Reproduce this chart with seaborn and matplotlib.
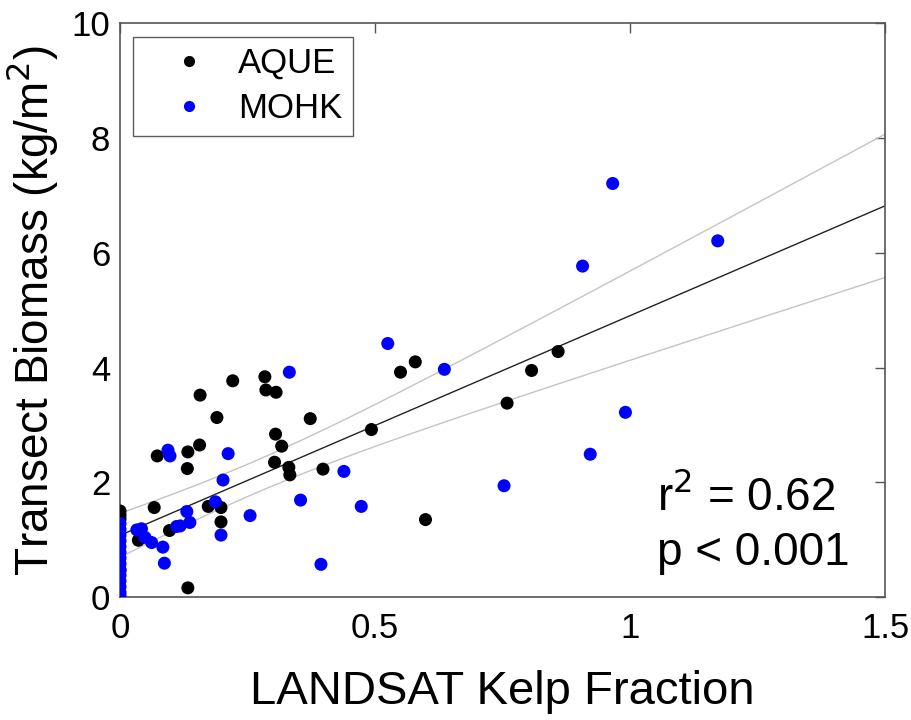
import numpy as np
import pandas as pd
import seaborn as sns
import matplotlib.pyplot as plt

# values
aque_x = [0, 0, 0, 0, 0.036, 0.067, 0.097, 0.133, 0.073, 0.133, 0.156, 0.132,
          0.157, 0.221, 0.284, 0.286, 0.306, 0.190, 0.373, 0.305, 0.317, 0.303,
          0.331, 0.333, 0.398, 0.173, 0.198, 0.198, 0.493, 0.550, 0.579, 0.599,
          0.759, 0.807, 0.859]
aque_y = [1.50, 1.43, 1.36, 0.46, 0.99, 1.56, 1.16, 0.16, 2.46, 2.53, 2.65, 2.24,
          3.52, 3.77, 3.84, 3.61, 3.57, 3.13, 3.11, 2.84, 2.63, 2.35,
          2.26, 2.13, 2.23, 1.58, 1.56, 1.31, 2.92, 3.92, 4.10, 1.35,
          3.38, 3.95, 4.28]

mohk_x = [0, 0, 0, 0, 0, 0, 0, 0, 0, 0, 0, 0, 0, 0,
          0.033, 0.042, 0.049, 0.062, 0.084, 0.087, 0.094, 0.098, 0.111, 0.118,
          0.137, 0.131, 0.187, 0.198, 0.202, 0.212, 0.255, 0.332, 0.354, 0.394,
          0.439, 0.473, 0.525, 0.636, 0.753, 0.907, 0.922, 0.966, 0.991, 1.172]
mohk_y = [1.28, 1.18, 1.08, 0.98, 0.88, 0.78, 0.68, 0.58, 0.48, 0.38, 0.28, 0.18, 0.08, 0.02,
          1.17, 1.19, 1.04, 0.95, 0.87, 0.59, 2.56, 2.46, 1.23, 1.24,
          1.30, 1.49, 1.66, 1.08, 2.04, 2.50, 1.42, 3.92, 1.69, 0.57,
          2.19, 1.58, 4.42, 3.97, 1.94, 5.77, 2.49, 7.21, 3.22, 6.21]

r2_label = "0.62"
p_label = "0.001"

df = pd.DataFrame({
    "kelp": aque_x + mohk_x,
    "biomass": aque_y + mohk_y,
    "site": ["AQUE"] * len(aque_x) + ["MOHK"] * len(mohk_x),
})

sns.set_style("white")
plt.rcParams["font.family"] = ["Liberation Sans", "DejaVu Sans"]
plt.rcParams["text.color"] = "black"
plt.rcParams["axes.labelcolor"] = "black"

fig = plt.figure(figsize=(9.12, 7.2), dpi=100)
ax = fig.add_axes([0.1316, 0.1708, 0.8388, 0.7966])

# least squares fit + confidence band of the mean
x = df["kelp"].values
y = df["biomass"].values
n = len(x)
b, a = np.polyfit(x, y, 1)
resid = y - (a + b * x)
s = np.sqrt(np.sum(resid ** 2) / (n - 2))
sxx = np.sum((x - x.mean()) ** 2)
xs = np.linspace(0, 1.5, 200)
fit = a + b * xs
half = 2.64 * s * np.sqrt(1.0 / n + (xs - x.mean()) ** 2 / sxx)

ax.plot(xs, fit + half, color="#c4c4c4", lw=1.0, zorder=1)
ax.plot(xs, fit - half, color="#c4c4c4", lw=1.0, zorder=1)
ax.plot(xs, fit, color="#222222", lw=1.0, zorder=1)

sns.scatterplot(data=df, x="kelp", y="biomass", hue="site",
                palette={"AQUE": "black", "MOHK": "#0000ff"},
                s=88, linewidth=0, ax=ax, zorder=3, legend=False)

# legend with small dots like the original
for lab, col in [("AQUE", "black"), ("MOHK", "#0000ff")]:
    ax.plot([], [], "o", color=col, ms=7, label=lab)
leg = ax.legend(loc="upper left", bbox_to_anchor=(0.017, 0.977), fontsize=25,
                frameon=True, fancybox=False, handletextpad=0.12,
                borderpad=0.3, labelspacing=0.35, handlelength=2.6,
                borderaxespad=0)
leg.get_frame().set_edgecolor("#333333")
leg.get_frame().set_linewidth(1.0)

ax.set_xlim(0, 1.5)
ax.set_ylim(0, 10)
ax.set_xticks([0, 0.5, 1, 1.5])
ax.set_xticklabels(["0", "0.5", "1", "1.5"])
ax.set_yticks([0, 2, 4, 6, 8, 10])
ax.tick_params(direction="in", top=True, right=True, length=7, width=1,
               color="#555555", labelcolor="black", labelsize=25)
ax.tick_params(axis="x", pad=11)
ax.tick_params(axis="y", pad=7)
for sp in ax.spines.values():
    sp.set_color("#555555")
    sp.set_linewidth(1.2)

ax.set_xlabel("LANDSAT Kelp Fraction", fontsize=34, labelpad=18)
ax.set_ylabel("Transect Biomass (kg/m$^2$)", fontsize=33, labelpad=8)

ax.text(0.702, 0.174, "r$^2$ = " + r2_label, transform=ax.transAxes,
        ha="left", va="center", fontsize=33)
ax.text(0.702, 0.077, "p < " + p_label, transform=ax.transAxes,
        ha="left", va="center", fontsize=33)

fig.savefig("out.png", dpi=100)
